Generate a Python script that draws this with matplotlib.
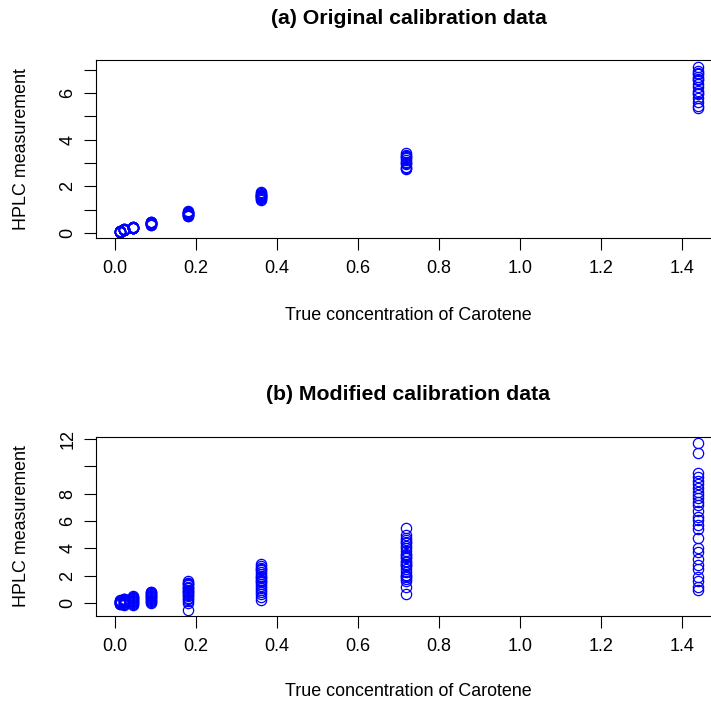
import matplotlib.pyplot as plt
import numpy as np

plt.rcParams['font.family'] = ['Liberation Sans', 'DejaVu Sans']

conc = [0.01125, 0.0225, 0.045, 0.09, 0.18, 0.36, 0.72, 1.44]

# (a) original data, HPLC readings per concentration
orig = [
    [0.05, 0.07, 0.06, 0.04, 0.08, 0.06, 0.05, 0.07, 0.09, 0.06, 0.05, 0.04],
    [0.12, 0.14, 0.15, 0.11, 0.16, 0.13, 0.14, 0.12, 0.17, 0.15, 0.13, 0.14],
    [0.21, 0.23, 0.24, 0.22, 0.25, 0.20, 0.23, 0.22, 0.26, 0.24, 0.21, 0.23],
    [0.35, 0.40, 0.44, 0.38, 0.47, 0.42, 0.36, 0.49, 0.41, 0.45, 0.39, 0.43],
    [0.72, 0.78, 0.85, 0.80, 0.90, 0.75, 0.88, 0.82, 0.93, 0.77, 0.84, 0.87],
    [1.43, 1.50, 1.58, 1.65, 1.72, 1.77, 1.47, 1.55, 1.62, 1.69, 1.53, 1.60],
    [2.73, 2.85, 2.95, 3.05, 3.15, 3.25, 3.35, 3.42, 2.80, 3.00, 3.20, 3.30],
    [7.12, 6.95, 6.80, 6.70, 6.55, 6.40, 6.25, 6.10, 5.95, 5.80, 5.60, 5.45,
     5.35, 6.60, 6.00, 6.85],
]

# (b) modified data
modi = [
    [0.05, 0.12, -0.05, 0.18, 0.02, 0.25, 0.08, -0.08, 0.15, 0.10, 0.20, 0.00],
    [0.10, 0.22, -0.02, 0.30, 0.05, 0.15, 0.28, -0.10, 0.18, 0.08, 0.33, 0.12],
    [0.15, 0.35, -0.15, 0.45, 0.05, 0.25, 0.52, 0.30, 0.10, 0.40, -0.05, 0.20],
    [0.00, 0.15, 0.30, 0.45, 0.60, 0.75, 0.85, 0.25, 0.50, 0.10, 0.65, 0.35,
     0.55, 0.80],
    [1.63, 1.50, 1.40, 1.30, 1.20, 1.10, 1.00, 0.90, 0.80, 0.70, 0.60, 0.50,
     0.40, 0.30, 0.20, 0.05, -0.49, 1.45, 1.15, 0.85],
    [2.85, 2.75, 2.60, 2.45, 2.30, 2.15, 2.00, 1.85, 1.70, 1.55, 1.40, 1.25,
     1.10, 0.95, 0.80, 0.65, 0.45, 0.25, 2.50, 1.95, 1.60],
    [5.47, 5.00, 4.80, 4.60, 4.40, 4.20, 4.00, 3.80, 3.60, 3.50, 3.30, 3.10,
     2.90, 2.70, 2.50, 2.30, 2.10, 1.90, 1.75, 1.60, 1.20, 0.70, 3.40, 2.80,
     4.50, 3.00, 2.00],
    [11.72, 11.00, 9.53, 9.24, 8.95, 8.68, 8.39, 8.15, 7.90, 7.66, 7.42, 7.17,
     6.74, 6.32, 6.08, 5.72, 5.42, 4.74, 4.01, 3.77, 3.21, 2.80, 2.48, 1.94,
     1.65, 1.21, 0.97],
]

titles = ["(a) Original calibration data", "(b) Modified calibration data"]
xticks = [0.0, 0.2, 0.4, 0.6, 0.8, 1.0, 1.2, 1.4]
yticks_a = [0, 1, 2, 3, 4, 5, 6, 7]
ylabels_a = ["0", "", "2", "", "4", "", "6", ""]
yticks_b = [0, 2, 4, 6, 8, 10, 12]
ylabels_b = ["0", "2", "4", "6", "8", "", "12"]

fig = plt.figure(figsize=(7.11, 7.04), dpi=100)
ax1 = fig.add_axes([96.4 / 711, (704 - 238) / 704, 624.6 / 711, 178 / 704])
ax2 = fig.add_axes([96.4 / 711, (704 - 616) / 704, 624.6 / 711, 179 / 704])

panels = [(ax1, orig, (-0.215, 7.42), yticks_a, ylabels_a),
          (ax2, modi, (-0.93, 12.14), yticks_b, ylabels_b)]

for ax, data, ylim, yt, yl in panels:
    for c, vals in zip(conc, data):
        ax.plot([c] * len(vals), vals, linestyle='none', marker='o',
                markersize=7.4, markerfacecolor='none',
                markeredgecolor='#0000FF', markeredgewidth=0.9)
    ax.set_xlim(-0.046, 1.497)
    ax.set_ylim(*ylim)
    ax.set_xticks(xticks)
    ax.set_xticklabels([f"{t:.1f}" for t in xticks])
    ax.set_yticks(yt)
    ax.set_yticklabels(yl, rotation=90, va='center')
    ax.tick_params(direction='out', length=8.5, width=0.8, labelsize=13,
                   color='black')
    ax.tick_params(axis='x', pad=7)
    ax.tick_params(axis='y', pad=6)
    for s in ax.spines.values():
        s.set_linewidth(0.8)

fig.text(408.5 / 711, 1 - 18 / 704, titles[0], ha='center', va='center',
         fontsize=15.3, fontweight='bold')
fig.text(408.5 / 711, 1 - 394 / 704, titles[1], ha='center', va='center',
         fontsize=15.3, fontweight='bold')
fig.text(408.5 / 711, 1 - 316 / 704, "True concentration of Carotene",
         ha='center', va='center', fontsize=12.9)
fig.text(408.5 / 711, 1 - 691 / 704, "True concentration of Carotene",
         ha='center', va='center', fontsize=12.9)
fig.text(22 / 711, 1 - 149 / 704, "HPLC measurement", rotation=90,
         ha='center', va='center', fontsize=12.9)
fig.text(22 / 711, 1 - 526.5 / 704, "HPLC measurement", rotation=90,
         ha='center', va='center', fontsize=12.9)

fig.savefig("out.png", dpi=100)
